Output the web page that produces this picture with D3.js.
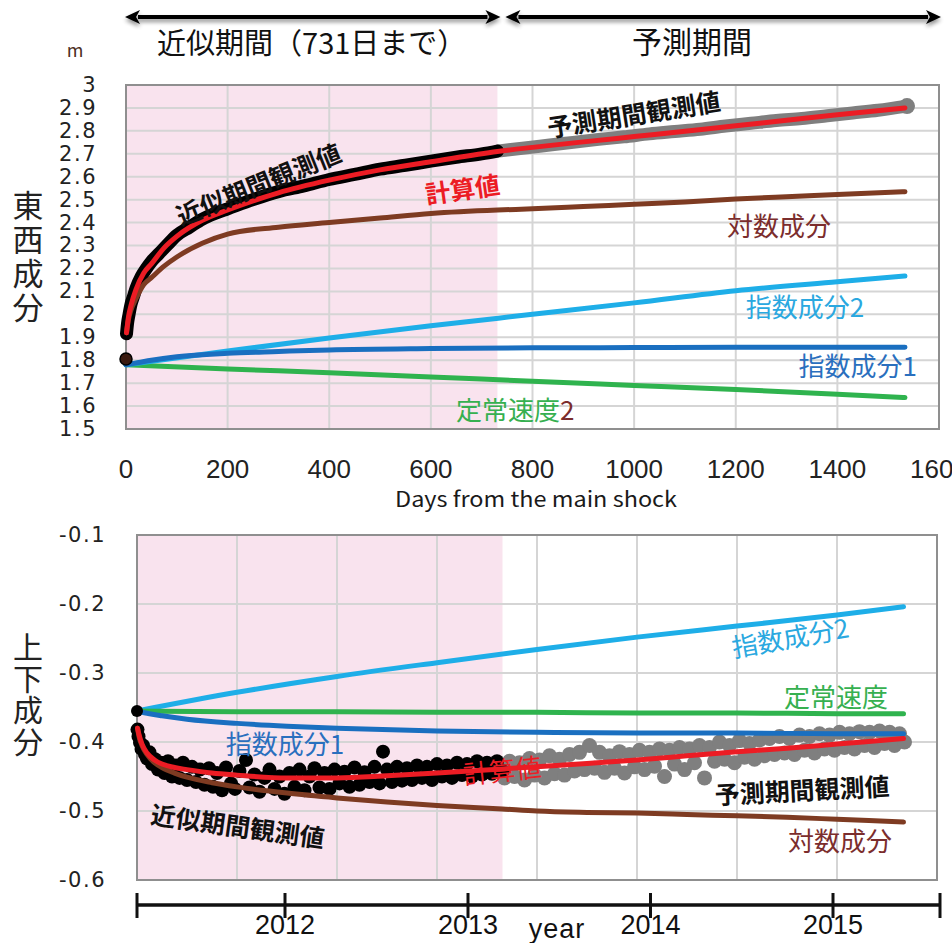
<!DOCTYPE html>
<html>
<head>
<meta charset="utf-8">
<script src="https://cdn.jsdelivr.net/npm/d3@7"></script>
<style>
  body { margin: 0; background: #fff; }
  svg text { font-family: "Noto Sans CJK JP", sans-serif; }
  .ytick { font-family: "DejaVu Sans", sans-serif; font-size: 21px; letter-spacing: 1.5px; fill: #222; }
  .xtick { font-family: "Liberation Sans", sans-serif; font-size: 26px; fill: #222; }
  .yeartick { font-family: "Liberation Sans Narrow", "Liberation Sans", sans-serif; font-size: 27px; fill: #111; }
</style>
</head>
<body>
<svg id="chart" width="952" height="943"></svg>
<script>
// ---------- shared ----------
const approxEndDay = 731;          // 近似期間 ends here
const maxDay = 1600;
const dayTicks = [0, 200, 400, 600, 800, 1000, 1200, 1400, 1600];

// days used by the model curves
const fitDays = [1, 5, 10, 20, 35, 50, 75, 100, 150, 200, 300, 400, 500, 600, 731, 800, 900, 1000, 1100, 1200, 1300, 1400, 1533];
const slowDays = [0, 200, 400, 600, 800, 1000, 1200, 1400, 1533];
const expDays = [0, 25, 50, 100, 200, 300, 400, 600, 800, 1000, 1200, 1400, 1533];

// ---------- top: 東西成分 ----------
const ewTicks = [1.5, 1.6, 1.7, 1.8, 1.9, 2.0, 2.1, 2.2, 2.3, 2.4, 2.5, 2.6, 2.7, 2.8, 2.9, 3.0];
const ewTickLabels = ["1.5", "1.6", "1.7", "1.8", "1.9", "2", "2.1", "2.2", "2.3", "2.4", "2.5", "2.6", "2.7", "2.8", "2.9", "3"];
const ewStart = 1.805;
const ewCalc = [1.92, 1.99, 2.04, 2.11, 2.18, 2.22, 2.29, 2.34, 2.41, 2.455, 2.53, 2.585, 2.63, 2.665, 2.71, 2.728, 2.752, 2.775, 2.798, 2.822, 2.846, 2.87, 2.9];
const ewLog = [1.92, 1.98, 2.02, 2.07, 2.13, 2.16, 2.21, 2.25, 2.31, 2.35, 2.38, 2.40, 2.42, 2.44, 2.455, 2.46, 2.47, 2.48, 2.49, 2.503, 2.513, 2.522, 2.535];
const ewExp2 = [1.78, 1.84, 1.897, 1.95, 2.0, 2.05, 2.103, 2.142, 2.167];
const ewExp1 = [1.78, 1.79, 1.80, 1.815, 1.83, 1.838, 1.845, 1.851, 1.854, 1.855, 1.856, 1.856, 1.857];
const ewSteady = [1.78, 1.762, 1.745, 1.727, 1.708, 1.69, 1.672, 1.652, 1.637];
const ewObsADays = [1, 3, 6, 10, 15, 20, 30, 40, 50, 65, 80, 100, 125, 150, 175, 200, 250, 300, 350, 400, 450, 500, 550, 600, 650, 700, 731];
const ewObsA = [1.915, 1.96, 2.0, 2.045, 2.08, 2.115, 2.165, 2.2, 2.23, 2.265, 2.3, 2.345, 2.38, 2.415, 2.44, 2.46, 2.5, 2.535, 2.56, 2.588, 2.61, 2.633, 2.65, 2.668, 2.685, 2.7, 2.712];
const ewObsPDays = [731, 780, 830, 880, 930, 980, 1030, 1080, 1130, 1180, 1230, 1280, 1330, 1380, 1430, 1480, 1537];
const ewObsP = [2.712, 2.724, 2.737, 2.75, 2.763, 2.774, 2.787, 2.797, 2.807, 2.821, 2.833, 2.845, 2.854, 2.866, 2.878, 2.89, 2.908];

// ---------- bottom: 上下成分 ----------
const udTicks = [-0.6, -0.5, -0.4, -0.3, -0.2, -0.1];
const udTickLabels = ["-0.6", "-0.5", "-0.4", "-0.3", "-0.2", "-0.1"];
const udStart = -0.355;
const udCalc = [-0.38, -0.392, -0.403, -0.416, -0.426, -0.432, -0.437, -0.44, -0.445, -0.448, -0.452, -0.452, -0.449, -0.445, -0.439, -0.436, -0.431, -0.426, -0.42, -0.414, -0.409, -0.403, -0.395];
const udLog = [-0.38, -0.395, -0.405, -0.418, -0.43, -0.437, -0.445, -0.451, -0.459, -0.465, -0.474, -0.481, -0.487, -0.492, -0.497, -0.5, -0.502, -0.503, -0.505, -0.507, -0.509, -0.512, -0.516];
const udExp2 = [-0.355, -0.328, -0.305, -0.285, -0.266, -0.248, -0.232, -0.216, -0.204];
const udExp1 = [-0.355, -0.359, -0.362, -0.367, -0.373, -0.377, -0.38, -0.384, -0.386, -0.387, -0.387, -0.388, -0.388];
const udSteady = [-0.355, -0.356, -0.356, -0.357, -0.357, -0.358, -0.358, -0.359, -0.359];
const udObsADays = [1, 3, 6, 9, 12, 16, 20, 25, 30, 36, 42, 48, 55, 62, 70, 78, 85, 92, 100, 110, 118, 126, 135, 144, 152, 160, 170, 178, 188, 196, 205, 218, 225, 235, 245, 255, 265, 275, 285, 295, 305, 315, 325, 335, 345, 355, 365, 375, 385, 395, 405, 415, 425, 435, 445, 455, 465, 475, 485, 492, 500, 510, 520, 530, 540, 550, 560, 570, 580, 590, 600, 610, 620, 630, 640, 650, 660, 670, 680, 690, 700, 710, 720, 731];
const udObsA = [-0.382, -0.392, -0.401, -0.41, -0.405, -0.418, -0.424, -0.415, -0.432, -0.425, -0.44, -0.43, -0.445, -0.428, -0.45, -0.434, -0.452, -0.43, -0.455, -0.436, -0.458, -0.44, -0.462, -0.438, -0.465, -0.445, -0.47, -0.437, -0.46, -0.468, -0.442, -0.426, -0.466, -0.447, -0.472, -0.452, -0.44, -0.468, -0.45, -0.475, -0.445, -0.465, -0.44, -0.47, -0.45, -0.438, -0.466, -0.445, -0.468, -0.44, -0.46, -0.443, -0.465, -0.437, -0.462, -0.444, -0.458, -0.436, -0.46, -0.414, -0.44, -0.458, -0.436, -0.456, -0.438, -0.455, -0.434, -0.452, -0.436, -0.455, -0.432, -0.45, -0.434, -0.452, -0.43, -0.448, -0.432, -0.45, -0.428, -0.447, -0.43, -0.446, -0.428, -0.442];
const udObsPDays = [735, 745, 755, 765, 775, 785, 795, 805, 815, 825, 835, 845, 855, 865, 875, 885, 895, 905, 915, 925, 935, 945, 955, 965, 975, 985, 995, 1005, 1015, 1025, 1035, 1045, 1055, 1065, 1075, 1085, 1095, 1105, 1115, 1125, 1135, 1145, 1155, 1165, 1175, 1185, 1195, 1205, 1215, 1225, 1235, 1245, 1255, 1265, 1275, 1285, 1295, 1305, 1315, 1325, 1335, 1345, 1355, 1365, 1375, 1385, 1395, 1405, 1415, 1425, 1435, 1445, 1455, 1465, 1475, 1485, 1495, 1505, 1515, 1525, 1535];
const udObsP = [-0.452, -0.428, -0.45, -0.43, -0.455, -0.424, -0.448, -0.426, -0.452, -0.42, -0.446, -0.425, -0.448, -0.418, -0.442, -0.415, -0.44, -0.405, -0.438, -0.415, -0.444, -0.42, -0.438, -0.414, -0.445, -0.418, -0.436, -0.412, -0.44, -0.415, -0.435, -0.41, -0.45, -0.412, -0.432, -0.408, -0.44, -0.41, -0.43, -0.405, -0.452, -0.408, -0.428, -0.4, -0.425, -0.405, -0.43, -0.398, -0.422, -0.402, -0.425, -0.397, -0.42, -0.395, -0.418, -0.392, -0.416, -0.395, -0.418, -0.39, -0.412, -0.392, -0.416, -0.388, -0.41, -0.39, -0.412, -0.386, -0.408, -0.388, -0.41, -0.385, -0.405, -0.386, -0.408, -0.384, -0.402, -0.386, -0.405, -0.388, -0.4];

// timeline under the bottom panel
const mainShock = new Date(2011, 2, 11);
const yearTicks = [new Date(2012, 0, 1), new Date(2013, 0, 1), new Date(2014, 0, 1), new Date(2015, 0, 1)];
const yearLabels = ["2012", "2013", "2014", "2015"];
const timelineEndDay = 1606;

// ---------- colours ----------
const C = {
  pink: "#f9e3ee", grid: "#d5d5d5", border: "#8f8f8f",
  red: "#ec1c24", brown: "#7e3b22", lightBlue: "#1eaee8", darkBlue: "#1a6fc0",
  green: "#2fb34e", gray: "#7f7f7f", maroon: "#7b2d2d"
};

const svg = d3.select("#chart");
const defs = svg.append("defs");
const shadow = defs.append("filter").attr("id", "shadow").attr("x", "-5%").attr("y", "-100%").attr("width", "110%").attr("height", "300%");
shadow.append("feGaussianBlur").attr("in", "SourceAlpha").attr("stdDeviation", 2);
shadow.append("feOffset").attr("dy", 3).attr("result", "b");
shadow.append("feComponentTransfer").append("feFuncA").attr("type", "linear").attr("slope", 0.45);
const fm = shadow.append("feMerge");
fm.append("feMergeNode");
fm.append("feMergeNode").attr("in", "SourceGraphic");

// scales
const xTop = d3.scaleLinear().domain([0, maxDay]).range([126, 939]);
const yTop = d3.scaleLinear().domain([1.5, 3.0]).range([429, 85]);
const xBot = d3.scaleLinear().domain([0, maxDay]).range([137, 937]);
const yBot = d3.scaleLinear().domain([-0.6, -0.1]).range([880, 535]);
const tBot = d3.scaleTime().domain([mainShock, d3.timeDay.offset(mainShock, maxDay)]).range([137, 937]);

function frame(x, y, hTicks, hLabels, labelRight) {
  const [x0, x1] = x.range(), [yb, yt] = y.range();
  const g = svg.append("g");
  g.append("rect").attr("x", x0).attr("y", yt).attr("width", x1 - x0).attr("height", yb - yt).attr("fill", "#fff");
  g.append("rect").attr("x", x(0)).attr("y", yt).attr("width", x(approxEndDay) - x(0)).attr("height", yb - yt).attr("fill", C.pink);
  g.selectAll(".hg").data(hTicks.slice(1, -1)).join("line")
    .attr("x1", x0).attr("x2", x1).attr("y1", d => y(d)).attr("y2", d => y(d))
    .attr("stroke", C.grid).attr("stroke-width", 2);
  g.selectAll(".vg").data(dayTicks.slice(1, -1)).join("line")
    .attr("x1", d => x(d)).attr("x2", d => x(d)).attr("y1", yt).attr("y2", yb)
    .attr("stroke", C.grid).attr("stroke-width", 2);
  g.append("rect").attr("x", x0).attr("y", yt).attr("width", x1 - x0).attr("height", yb - yt)
    .attr("fill", "none").attr("stroke", C.border).attr("stroke-width", 2);
  g.selectAll(".yl").data(hTicks).join("text").attr("class", "ytick")
    .attr("x", labelRight).attr("y", d => y(d)).attr("dy", "0.33em").attr("text-anchor", "end")
    .text((d, i) => hLabels[i]);
  return g;
}

function curve(g, x, y, days, vals, color, width) {
  const line = d3.line().x(d => x(d[0])).y(d => y(d[1])).curve(d3.curveMonotoneX);
  g.append("path").attr("d", line(d3.zip(days, vals))).attr("fill", "none")
    .attr("stroke", color).attr("stroke-width", width).attr("stroke-linecap", "round").attr("stroke-linejoin", "round");
}

function dots(g, x, y, days, vals, color, r) {
  g.append("g").selectAll("circle").data(d3.zip(days, vals)).join("circle")
    .attr("cx", d => x(d[0])).attr("cy", d => y(d[1])).attr("r", r).attr("fill", color);
}

function note(g, x, y, n) {
  const t = g.append("text")
    .attr("transform", `translate(${x(n.day)},${y(n.v)}) rotate(${n.rot || 0})`)
    .attr("text-anchor", "middle").attr("dominant-baseline", "central")
    .attr("font-size", n.size || 26).attr("font-weight", n.bold ? 700 : 400).attr("fill", n.color);
  if (n.parts) n.parts.forEach(p => t.append("tspan").attr("fill", p[1]).text(p[0]));
  else t.text(n.text);
}

function verticalTitle(txt, cx, cy, size, spacing) {
  svg.append("text").attr("x", cx).attr("y", cy).attr("writing-mode", "tb")
    .attr("text-anchor", "middle").attr("font-size", size).attr("letter-spacing", spacing)
    .attr("fill", "#222").text(txt);
}

// ---------- header arrows ----------
function arrow(xa, xb, yy) {
  const h = 15, w = 7;
  const g = svg.append("g").attr("filter", "url(#shadow)");
  g.append("line").attr("x1", xa + h - 2).attr("x2", xb - h + 2).attr("y1", yy).attr("y2", yy).attr("stroke", "#000").attr("stroke-width", 4);
  g.append("path").attr("d", `M${xa},${yy}L${xa + h},${yy - w}L${xa + h - 4},${yy}L${xa + h},${yy + w}Z`).attr("fill", "#000");
  g.append("path").attr("d", `M${xb},${yy}L${xb - h},${yy - w}L${xb - h + 4},${yy}L${xb - h},${yy + w}Z`).attr("fill", "#000");
}
arrow(xTop(0) - 1, xTop(approxEndDay) + 3, 17);
arrow(xTop(approxEndDay) + 8, 941, 17);
svg.append("text").attr("x", (xTop(0) + xTop(approxEndDay)) / 2).attr("y", 41).attr("text-anchor", "middle")
  .attr("dominant-baseline", "central").attr("font-size", 29).attr("fill", "#111").text("近似期間（731日まで）");
svg.append("text").attr("x", 692).attr("y", 40).attr("text-anchor", "middle")
  .attr("dominant-baseline", "central").attr("font-size", 30).attr("fill", "#111").text("予測期間");

// ---------- top panel ----------
const gTop = frame(xTop, yTop, ewTicks, ewTickLabels, 97);
svg.append("text").attr("x", 75).attr("y", 49).attr("text-anchor", "middle").attr("dominant-baseline", "central")
  .attr("font-family", "Liberation Sans, sans-serif").attr("font-size", 18).attr("fill", "#4b2e1e").text("m");
verticalTitle("東西成分", 28, 258, 31, 3);
gTop.selectAll(".xl").data(dayTicks).join("text").attr("class", "xtick")
  .attr("x", d => xTop(d)).attr("y", 469).attr("text-anchor", "middle").attr("dominant-baseline", "central").text(d => d);
svg.append("text").attr("x", 536).attr("y", 498).attr("text-anchor", "middle").attr("dominant-baseline", "central")
  .attr("font-family", "Liberation Sans, sans-serif").attr("font-size", 21).attr("fill", "#1a1a1a")
  .attr("textLength", 282).attr("lengthAdjust", "spacingAndGlyphs").text("Days from the main shock");

curve(gTop, xTop, yTop, slowDays, ewSteady, C.green, 5);
curve(gTop, xTop, yTop, slowDays, ewExp2, C.lightBlue, 5);
curve(gTop, xTop, yTop, expDays, ewExp1, C.darkBlue, 5);
curve(gTop, xTop, yTop, ewObsPDays, ewObsP, C.gray, 13);
dots(gTop, xTop, yTop, ewObsPDays.slice(-1), ewObsP.slice(-1), C.gray, 8);
curve(gTop, xTop, yTop, ewObsADays, ewObsA, "#000", 13);
curve(gTop, xTop, yTop, fitDays, ewLog, C.brown, 5);
curve(gTop, xTop, yTop, fitDays, ewCalc, C.red, 5);
gTop.append("circle").attr("cx", xTop(0)).attr("cy", yTop(ewStart)).attr("r", 6)
  .attr("fill", "#3a1a10").attr("stroke", "#000").attr("stroke-width", 1.5);

[
  { text: "近似期間観測値", day: 260, v: 2.573, rot: -22, color: "#111", bold: true, size: 25 },
  { text: "計算値", day: 662, v: 2.551, rot: -8, color: C.red, bold: true, size: 25 },
  { text: "予測期間観測値", day: 999, v: 2.878, rot: -9, color: "#111", bold: true, size: 25 },
  { text: "対数成分", day: 1285, v: 2.39, color: C.maroon },
  { text: "指数成分2", day: 1336, v: 2.04, color: "#2aa8e0" },
  { text: "指数成分1", day: 1440, v: 1.783, color: "#2a6fbe" },
  { parts: [["定常速度", "#36b050"], ["2", C.maroon]], day: 766, v: 1.592 }
].forEach(n => note(gTop, xTop, yTop, n));

// ---------- bottom panel ----------
const gBot = frame(xBot, yBot, udTicks, udTickLabels, 106);
verticalTitle("上下成分", 28, 695, 30, 1.5);

curve(gBot, xBot, yBot, slowDays, udExp2, C.lightBlue, 5);
curve(gBot, xBot, yBot, slowDays, udSteady, C.green, 5);
dots(gBot, xBot, yBot, udObsPDays, udObsP, C.gray, 7.5);
dots(gBot, xBot, yBot, udObsADays, udObsA, "#000", 7);
curve(gBot, xBot, yBot, expDays, udExp1, C.darkBlue, 5);
curve(gBot, xBot, yBot, fitDays, udLog, C.brown, 5);
curve(gBot, xBot, yBot, fitDays, udCalc, C.red, 5);
gBot.append("circle").attr("cx", xBot(0)).attr("cy", yBot(udStart)).attr("r", 6).attr("fill", "#000");

[
  { text: "指数成分2", day: 1306, v: -0.2464, rot: -10, color: "#2aa8e0" },
  { text: "定常速度", day: 1398, v: -0.332, color: "#36b050" },
  { text: "指数成分1", day: 296, v: -0.40, color: "#2a6fbe" },
  { text: "計算値", day: 730, v: -0.439, rot: -6, color: C.red },
  { text: "予測期間観測値", day: 1330, v: -0.468, rot: -3, color: "#111", bold: true, size: 25 },
  { text: "対数成分", day: 1406, v: -0.542, color: C.maroon },
  { text: "近似期間観測値", day: 202, v: -0.52, rot: 8, color: "#111", bold: true, size: 25 }
].forEach(n => note(gBot, xBot, yBot, n));

// timeline
const tl = svg.append("g");
const tEnd = d3.timeDay.offset(mainShock, timelineEndDay);
tl.append("line").attr("x1", tBot(mainShock)).attr("x2", tBot(tEnd)).attr("y1", 905).attr("y2", 905)
  .attr("stroke", "#111").attr("stroke-width", 3.5);
tl.selectAll(".tk").data([mainShock, ...yearTicks, tEnd]).join("line")
  .attr("x1", d => tBot(d)).attr("x2", d => tBot(d)).attr("y1", 893).attr("y2", 918)
  .attr("stroke", "#111").attr("stroke-width", 3);
tl.selectAll(".yt").data(yearTicks).join("text").attr("class", "yeartick")
  .attr("x", d => tBot(d)).attr("y", 925).attr("text-anchor", "middle").attr("dominant-baseline", "central")
  .text((d, i) => yearLabels[i]);
tl.append("text").attr("class", "yeartick").attr("x", 557).attr("y", 929).attr("text-anchor", "middle")
  .attr("dominant-baseline", "central").attr("font-size", 21).attr("letter-spacing", 1).text("year");
</script>
</body>
</html>
